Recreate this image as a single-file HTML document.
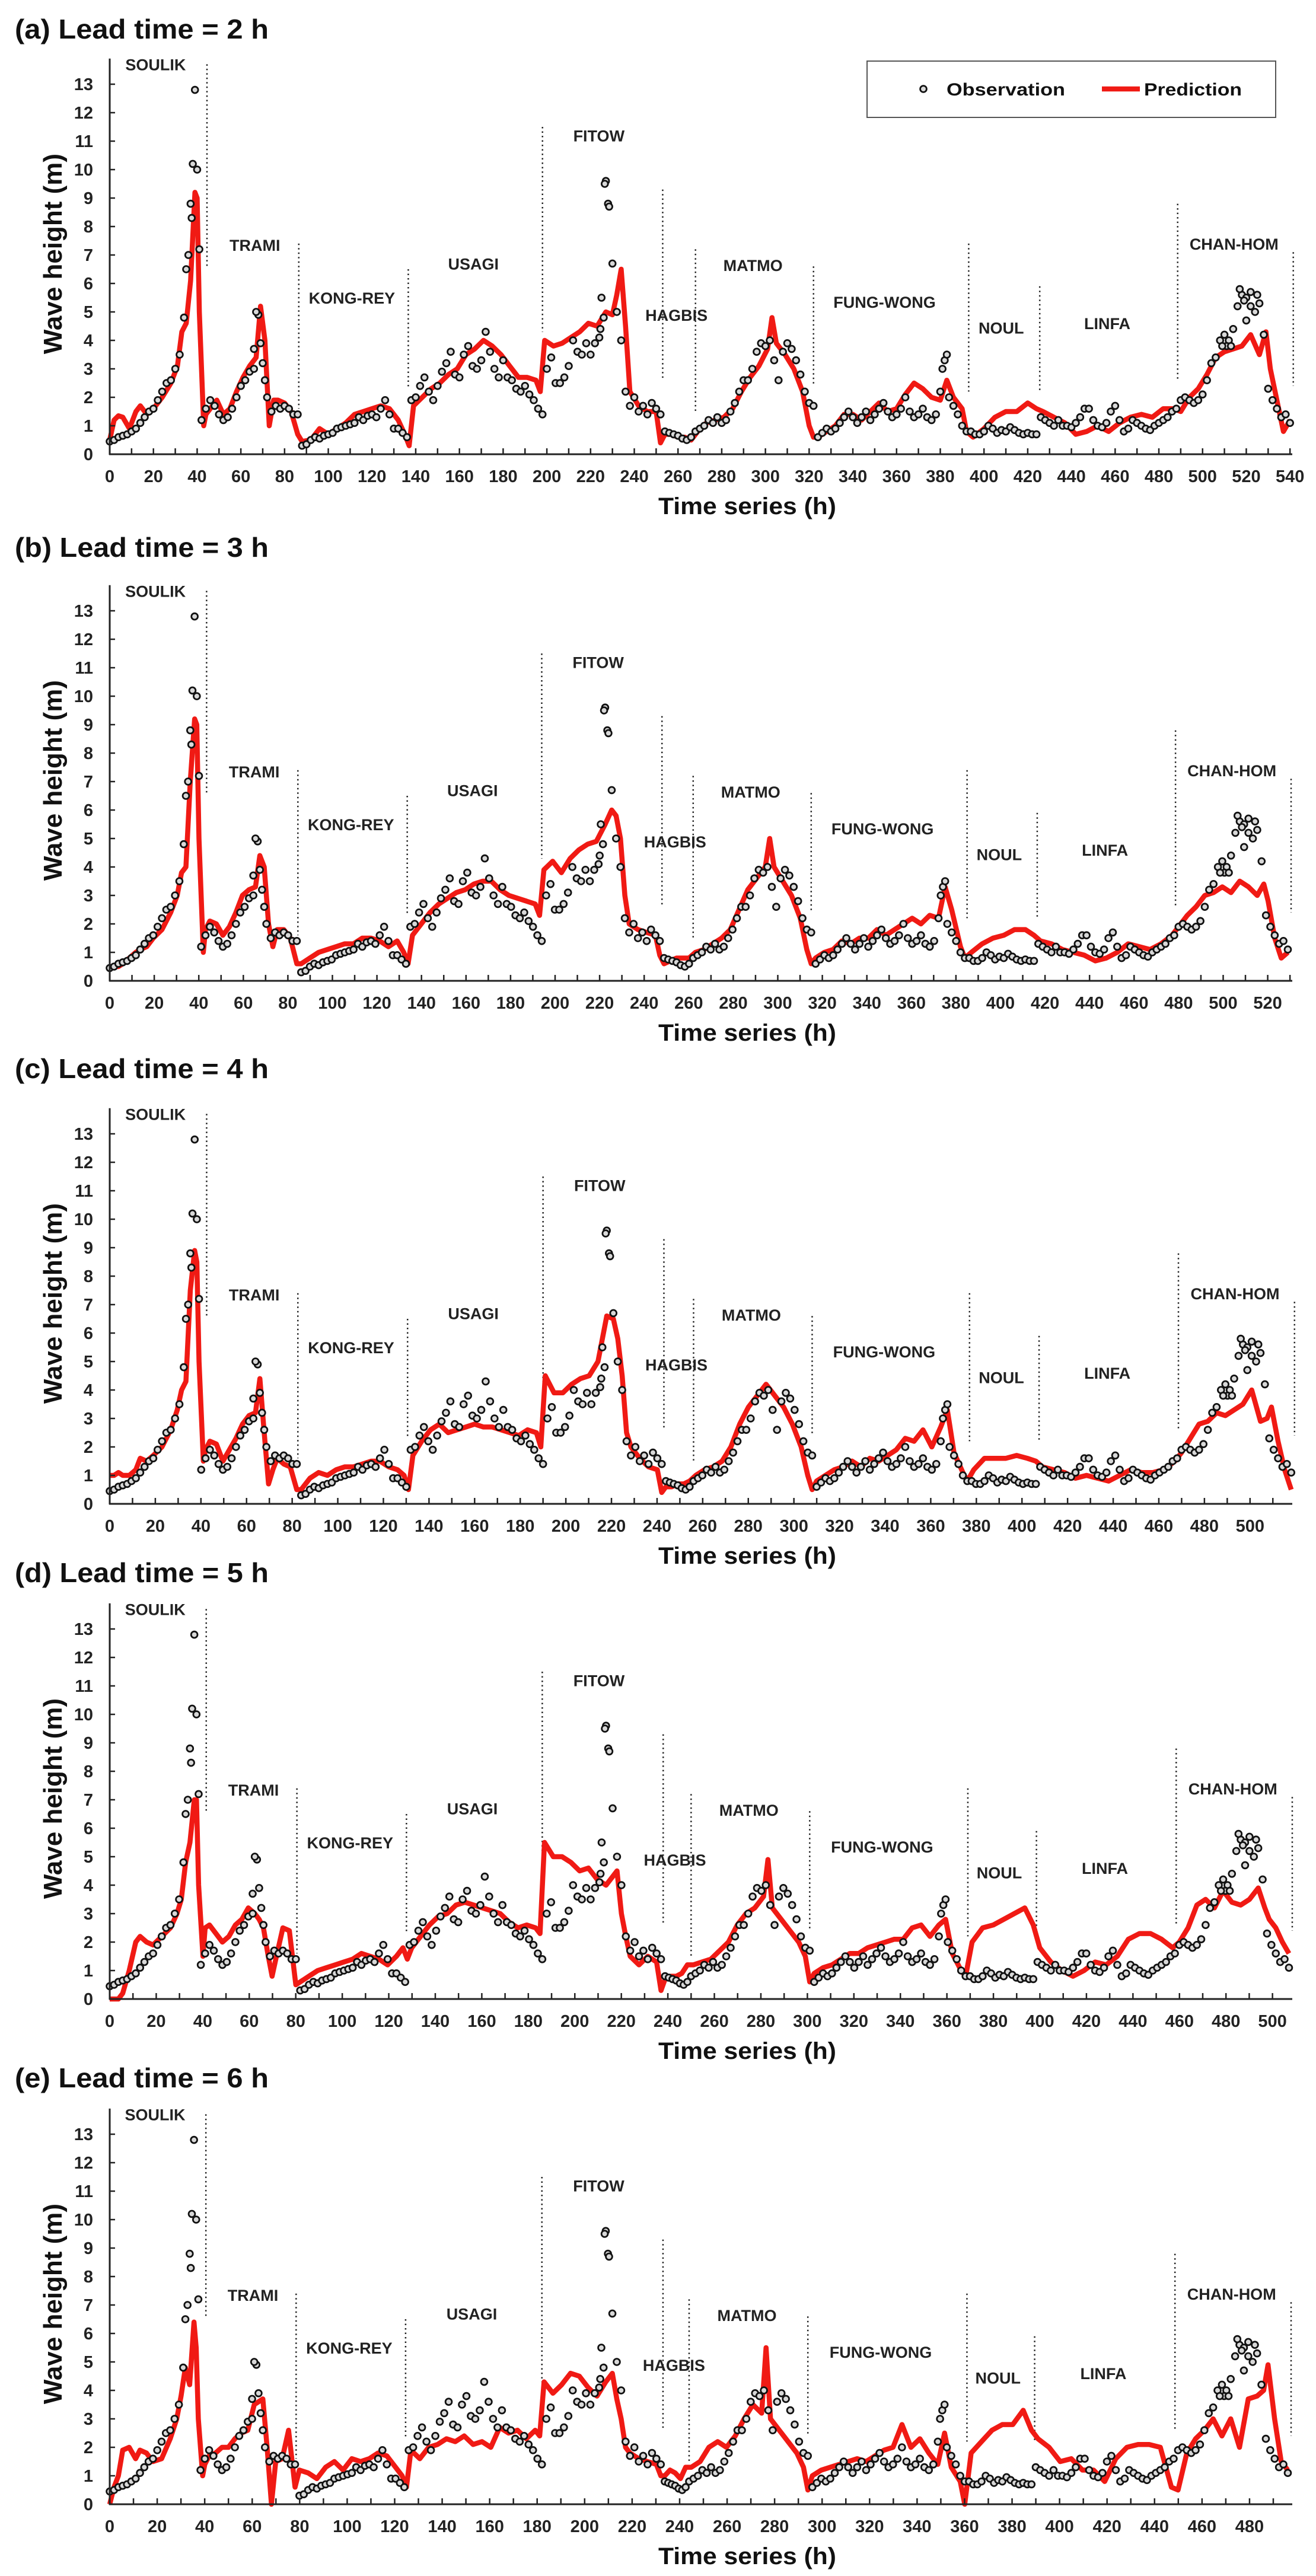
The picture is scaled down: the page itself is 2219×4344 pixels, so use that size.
<!DOCTYPE html>
<html><head><meta charset="utf-8"><style>
html,body{margin:0;padding:0;background:#fff;}
svg{display:block;font-family:"Liberation Sans",Arial,sans-serif;font-weight:bold;}
</style></head><body>
<svg id="fig" width="2219" height="4344" viewBox="0 0 2219 4344" xmlns="http://www.w3.org/2000/svg"></svg>
<script>
// ---- data (time axis expressed in panel (a) hours; other panels mapped by storm) ----
const panelTitles = ["(a) Lead time = 2 h","(b) Lead time = 3 h","(c) Lead time = 4 h","(d) Lead time = 5 h","(e) Lead time = 6 h"];
const leadTimes = [2,3,4,5,6];
const axisMax = [540.5,530.5,518,508,497.5];
const stormNames = ["SOULIK","TRAMI","KONG-REY","USAGI","FITOW","HAGBIS","MATMO","FUNG-WONG","NOUL","LINFA","CHAN-HOM"];
const stormBounds = [0,44.5,86.5,136.6,198,253,268,322,393,425.5,488.6,541.5];
const dividerTop = [13.7,7.4,6.5,11.5,9.3,7.2,6.6,7.4,5.9,8.8,7.1];
const dividerBottom = [6.6,1.6,2.3,4.3,2.6,1.5,2.4,2.2,2.2,2.6,2.4];
const labelT = [21,66.4,110.8,166.4,223.8,259.3,294.3,354.5,407.9,456.4,514.4];
const labelV = [13.7,7.35,5.5,6.7,11.2,4.9,6.65,5.35,4.45,4.6,7.4];
const yTicks = [0,1,2,3,4,5,6,7,8,9,10,11,12,13];
// observations every 2 h (t = 0,2,...,540)
const obsV = [
0.45,0.5,0.6,0.65,0.7,0.8,0.9,1.1,1.3,1.5,1.6,1.9,2.2,2.5,2.6,3.0,3.5,4.8,7.0,10.2,10.0,1.2,
1.6,1.9,1.7,1.4,1.2,1.3,1.6,2.0,2.4,2.6,2.9,3.0,4.9,3.2,2.0,1.5,1.7,1.6,1.7,1.6,1.4,1.4,
0.3,0.35,0.5,0.6,0.55,0.65,0.7,0.75,0.9,0.95,1.0,1.05,1.1,1.3,1.2,1.35,1.4,1.3,1.6,1.9,1.4,0.9,0.9,0.75,0.6,
1.9,2.0,2.4,2.7,2.2,1.9,2.4,2.9,3.2,3.6,2.8,2.7,3.5,3.8,3.1,3.0,3.3,4.3,3.6,3.0,2.7,3.3,2.7,2.6,2.3,2.2,2.4,2.1,1.9,1.6,1.4,
3.0,3.4,2.5,2.5,2.7,3.1,4.0,3.6,3.5,3.9,3.5,3.9,4.1,4.8,8.8,6.7,5.0,4.0,2.2,1.7,2.0,1.5,1.7,1.4,1.8,1.6,1.4,
0.8,0.75,0.7,0.65,0.55,0.5,0.6,0.8,
0.9,1.0,1.2,1.1,1.3,1.1,1.2,1.5,1.8,2.2,2.6,2.6,3.0,3.6,3.9,3.8,4.0,3.3,2.6,3.6,3.9,3.7,3.3,2.8,2.2,1.8,1.7,
0.6,0.75,0.9,0.8,0.9,1.1,1.3,1.5,1.3,1.1,1.3,1.5,1.2,1.4,1.6,1.8,1.5,1.3,1.4,1.6,2.0,1.5,1.3,1.4,1.6,1.3,1.2,1.4,2.2,3.3,2.0,1.7,1.4,1.0,0.8,
0.8,0.7,0.7,0.8,1.0,0.9,0.75,0.85,0.8,0.95,0.85,0.75,0.7,0.75,0.7,0.7,
1.3,1.2,1.1,1.0,1.2,1.0,1.0,0.95,1.1,1.3,1.6,1.6,1.2,1.0,0.95,1.1,1.5,1.7,1.2,0.8,0.9,1.2,1.1,1.0,0.9,0.85,1.0,1.1,1.2,1.3,1.5,1.6,
1.9,2.0,1.9,1.8,1.9,2.1,2.6,3.2,3.4,4.0,4.2,4.0,4.4,5.2,5.6,5.5,5.2,5.0,5.3,4.2,2.3,1.9,1.6,1.3,1.4,1.1];
const obsStep = 2;
const extraT = [39,37,37.5,35,41,67,69,66,71,227,226.5,228.5,225,224.5,517,519,522,525,520,511,513,509,381,383];
const extraV = [12.8,8.8,8.3,6.5,7.2,5.0,3.9,3.7,2.6,9.6,9.5,8.7,5.5,4.4,5.8,5.4,5.7,5.6,4.7,3.8,3.8,3.8,3.0,3.5];
// prediction sample times (panel (a) hours)
const predT = [0,2,4,6,9,12,14,17,20,24,28,31,33,35,37,39,40,41,43,
44,46,49,52,55,58,61,64,67,69,71,73,75,77,80,83,86,
88,92,96,100,104,108,112,116,120,124,128,132,135,137,
139,143,147,151,155,159,163,167,171,175,179,183,187,191,195,197,
199,203,207,211,215,219,223,227,230,232,234,236,238,242,246,250,252,
254,257,260,263,266,
269,273,277,281,285,289,293,297,301,303,305,309,313,317,320,322,
324,328,332,336,340,344,348,352,356,360,364,368,372,376,380,383,386,390,392,
395,400,405,410,415,420,424,
427,432,437,442,447,452,457,462,467,472,477,482,487,
490,494,498,502,506,510,514,518,522,526,529,531,534,537,540];
const predA = [0.5,1.2,1.35,1.3,0.9,1.5,1.7,1.4,1.6,2.0,2.5,3.1,4.3,4.6,6.1,9.2,9.0,5.0,1.0,
1.4,1.6,1.9,1.4,1.6,2.2,2.7,3.1,3.4,5.2,4.0,1.0,1.9,1.9,1.8,1.5,0.7,
0.45,0.5,0.9,0.7,0.9,1.1,1.4,1.5,1.6,1.7,1.6,1.2,0.7,0.3,
1.7,2.0,2.3,2.5,2.8,3.0,3.5,3.7,4.0,3.8,3.5,3.1,2.7,2.7,2.6,2.2,
4.0,3.8,3.9,4.1,4.3,4.6,4.5,5.0,4.9,5.6,6.5,4.5,2.2,1.7,1.5,1.5,0.4,
0.7,0.7,0.6,0.6,0.5,
0.8,1.1,1.2,1.3,1.6,2.2,2.7,3.1,3.7,4.8,3.9,3.5,3.0,2.2,1.0,0.6,
0.6,0.8,1.0,1.4,1.4,1.2,1.5,1.8,1.5,1.6,2.1,2.5,2.3,2.0,1.9,2.6,2.0,1.6,0.8,
0.6,0.9,1.3,1.5,1.5,1.8,1.6,
1.5,1.3,1.1,0.7,0.8,1.0,0.8,1.1,1.3,1.4,1.3,1.6,1.6,
1.5,2.0,2.3,2.8,3.4,3.6,3.7,3.8,4.2,3.5,4.3,3.0,1.9,0.8,1.2];
const predB = [0.5,0.5,0.5,0.6,0.8,1.0,1.1,1.2,1.5,1.8,2.4,3.0,3.8,4.0,7.0,9.2,9.0,5.0,1.0,
1.8,2.1,2.0,1.6,1.9,2.4,3.0,3.2,3.3,4.4,4.0,2.0,1.2,1.8,1.8,1.5,0.6,
0.6,0.8,1.0,1.1,1.2,1.3,1.3,1.5,1.5,1.4,1.2,1.4,1.0,0.6,
1.6,2.0,2.4,2.7,2.9,3.1,3.2,3.4,3.5,3.5,3.2,3.0,2.9,2.8,2.7,2.3,
3.9,4.2,3.8,4.3,4.6,4.8,4.9,5.5,6.0,5.8,5.0,3.0,2.0,1.8,1.7,1.6,0.9,
0.6,0.7,0.8,0.8,0.8,
1.0,1.1,1.3,1.5,1.8,2.5,3.2,3.6,4.0,5.0,4.0,3.5,3.0,2.2,1.1,0.6,
0.8,1.0,1.1,1.4,1.3,1.5,1.5,1.8,1.6,1.8,2.0,2.2,2.0,2.3,2.2,3.3,2.5,1.2,0.8,
1.0,1.3,1.5,1.6,1.8,1.8,1.6,
1.4,1.3,1.1,1.0,0.9,0.7,0.8,1.0,1.3,1.2,1.1,1.3,1.6,
1.9,2.3,2.6,3.0,3.1,3.3,3.1,3.5,3.3,3.0,3.4,2.8,1.5,0.8,1.0];
const predC = [1.0,1.0,1.1,1.0,1.0,1.2,1.6,1.5,1.7,2.0,2.6,3.3,4.0,4.3,7.5,8.9,8.5,5.0,1.5,
1.9,2.2,2.1,1.5,1.9,2.3,2.8,3.1,3.2,4.4,2.5,0.7,1.2,1.6,1.4,1.3,0.5,
0.5,0.9,1.1,1.0,1.2,1.3,1.3,1.4,1.5,1.5,1.3,1.2,1.0,0.5,
1.7,2.2,2.6,2.8,2.5,2.6,2.7,2.8,2.7,2.7,2.6,2.5,2.4,2.6,2.5,2.0,
4.5,3.9,3.9,4.2,4.4,4.5,5.0,6.6,6.5,5.8,4.5,2.5,2.0,1.6,1.3,1.2,0.4,
0.6,0.6,0.7,0.7,0.8,
1.0,1.2,1.3,1.5,2.0,2.8,3.4,3.8,4.2,4.0,3.8,3.4,2.8,2.0,1.0,0.5,
0.8,1.0,1.2,1.3,1.5,1.3,1.6,1.5,1.7,1.9,2.3,2.2,2.6,2.0,2.7,3.3,1.8,1.1,0.8,
1.2,1.6,1.6,1.6,1.7,1.6,1.5,
1.3,1.2,1.1,0.9,1.0,0.9,0.8,1.0,1.2,1.1,1.1,1.2,1.5,
1.8,2.3,2.8,2.9,3.2,3.1,3.3,3.5,4.0,2.9,3.0,3.4,2.2,1.2,0.5];
const predD = [0.0,0.0,0.0,0.2,1.0,2.0,2.2,2.0,1.9,2.2,2.5,3.0,3.5,4.8,5.5,7.0,7.0,4.0,1.5,
2.5,2.6,2.3,2.0,2.2,2.6,2.8,3.2,3.0,2.8,2.5,1.6,0.8,1.5,2.5,2.4,0.5,
0.6,0.8,1.0,1.1,1.2,1.3,1.4,1.6,1.5,1.4,1.2,1.5,1.8,1.4,
1.8,2.2,2.6,2.9,3.0,3.3,3.4,3.3,3.2,3.1,3.0,2.7,2.5,2.6,2.5,2.3,
5.5,5.0,5.0,4.8,4.5,4.6,4.2,4.0,4.3,4.5,3.0,2.2,1.5,1.2,1.5,1.3,0.3,
0.7,0.8,0.8,0.9,1.2,
1.2,1.3,1.4,1.7,2.0,2.6,3.0,3.2,3.6,4.9,3.2,2.8,2.4,2.0,1.5,0.6,
0.9,1.1,1.2,1.4,1.6,1.6,1.8,1.9,2.0,2.1,2.1,2.5,2.6,2.2,2.6,2.8,1.6,1.0,0.8,
2.0,2.5,2.6,2.8,3.0,3.2,2.6,
1.8,1.3,1.0,0.8,1.0,1.3,1.2,1.5,2.1,2.3,2.3,2.1,1.8,
2.0,2.5,3.3,3.5,3.2,3.8,3.4,3.3,3.5,3.9,3.2,2.8,2.5,2.0,1.6];
const predE = [0.0,0.6,1.0,1.9,2.0,1.6,1.9,1.8,1.5,1.6,2.3,3.0,3.8,4.8,4.2,6.4,5.5,3.0,1.0,
1.4,1.7,1.8,2.0,2.0,2.3,2.5,2.6,3.5,3.6,3.7,2.0,0.0,1.5,1.6,2.6,0.6,
1.2,1.1,0.9,1.3,1.5,1.2,1.6,1.5,1.6,1.8,1.7,1.3,1.0,0.6,
1.9,1.6,2.0,2.1,2.3,2.2,2.4,2.1,2.2,2.0,2.7,2.5,2.6,2.3,2.6,2.4,
4.3,3.9,4.2,4.6,4.5,4.1,3.8,4.3,4.6,3.7,3.0,2.0,1.8,1.6,1.5,1.4,1.0,
1.0,1.2,1.1,0.9,1.3,
1.3,1.5,2.0,2.2,2.0,2.4,3.0,3.5,3.2,5.5,3.0,2.6,2.2,1.8,1.3,0.5,
1.0,1.2,1.3,1.4,1.5,1.6,1.5,1.7,1.9,2.0,2.8,2.0,2.3,1.8,1.4,2.5,1.3,0.8,0.0,
1.8,2.2,2.6,2.8,2.8,3.3,2.6,
2.3,2.0,1.5,1.6,1.2,1.2,0.8,1.6,2.0,2.1,2.1,2.0,0.6,
0.5,1.8,2.3,2.6,3.0,2.4,3.0,2.0,3.7,3.8,4.0,4.9,3.0,1.5,1.2];
const predSeries = [predA,predB,predC,predD,predE];

// ---- layout ----
const titleY = [48,922,1801,2651,3503];
const zeroY = [766,1654,2536,3371,4223];
const X0 = 185, XEND = 2179, PXU = 48;
const NS = "http://www.w3.org/2000/svg";
const svg = document.getElementById("fig");
function mk(tag, attrs, parent){
  const e = document.createElementNS(NS, tag);
  for (const k in attrs) e.setAttribute(k, attrs[k]);
  (parent||svg).appendChild(e);
  return e;
}
function mapT(t, L){
  for (let k=0;k<stormBounds.length-1;k++){
    if (t<=stormBounds[k+1] || k===stormBounds.length-2){
      const b0=stormBounds[k], b1=stormBounds[k+1];
      const a0=b0-(L-2)*k, a1=b1-(L-2)*(k+1);
      return a0+(t-b0)/(b1-b0)*(a1-a0);
    }
  }
  return t;
}

panelTitles.forEach((title, p) => {
  const L = leadTimes[p];
  const y0 = zeroY[p];
  const xs = (XEND - X0 - 2) / axisMax[p];
  const xScale = t => X0 + mapT(t, L) * xs;
  const xRaw = h => X0 + h * xs;
  const yScale = v => y0 - v * PXU;
  const g = mk("g", {});
  
  

  const tt = mk("text", {x:25, y:titleY[p]+17, "font-size":46, textLength:428, lengthAdjust:"spacingAndGlyphs", fill:"#111"}, g);
  tt.textContent = title;
  
  

  for (let i=1;i<stormBounds.length;i++){
    const x = xScale(stormBounds[i]);
    const dl = mk("line", {x1:x, x2:x, y1:yScale(dividerTop[i-1]), y2:yScale(dividerBottom[i-1]), stroke:"#222", "stroke-width":2.5, "stroke-dasharray":"2.5 5"}, g);
    
    
  }
  stormNames.forEach((n,i) => {
    const lt = mk("text", {x:xScale(labelT[i]), y:yScale(labelV[i])+10, "font-size":27, "text-anchor":"middle", fill:"#222"}, g);
    lt.textContent = n;
    
    
  });

  const pv = predSeries[p];
  let d = "";
  predT.forEach((t,i) => { d += (i?"L":"M") + xScale(t).toFixed(1) + " " + yScale(pv[i]).toFixed(1) + " "; });
  const pl = mk("path", {d:d, fill:"none", stroke:"#f01a14", "stroke-width":8.5, "stroke-linejoin":"round"}, g);
  
  

  const og = mk("g", {fill:"#d8d8d8", stroke:"#111", "stroke-width":2.8}, g);
  
  
  obsV.forEach((v,i) => {
    const c = mk("circle", {cx:xScale(i*obsStep), cy:yScale(v), r:5.4}, og);
    
    
  });
  extraT.forEach((t,i) => {
    const c = mk("circle", {cx:xScale(t), cy:yScale(extraV[i]), r:5.4}, og);
    
    
  });

  const top = y0 - 13.9*PXU;
  const ya = mk("line", {x1:X0, x2:X0, y1:top, y2:y0+1, stroke:"#222", "stroke-width":3}, g);
  
  
  const xa = mk("line", {x1:X0-1, x2:XEND, y1:y0, y2:y0, stroke:"#222", "stroke-width":3}, g);
  
  
  yTicks.forEach(v => {
    const tk = mk("line", {x1:X0, x2:X0+9, y1:yScale(v), y2:yScale(v), stroke:"#222", "stroke-width":2.5}, g);
    
    
    const tl = mk("text", {x:157, y:yScale(v)+10, "font-size":29, "text-anchor":"end", fill:"#222"}, g);
    tl.textContent = v;
    
    
  });
  for (let h=10; h<=axisMax[p]; h+=10){
    const tk = mk("line", {x1:xRaw(h), x2:xRaw(h), y1:y0, y2:y0-10, stroke:"#222", "stroke-width":2.5}, g);
    
    
  }
  for (let h=0; h<=axisMax[p]; h+=20){
    const tl = mk("text", {x:xRaw(h), y:y0+47, "font-size":29, "text-anchor":"middle", fill:"#222"}, g);
    tl.textContent = h;
    
    
  }
  const yt = mk("text", {x:0, y:0, "font-size":44, "text-anchor":"middle", fill:"#111", transform:"translate(104," + (y0-338) + ") rotate(-90)"}, g);
  yt.textContent = "Wave height (m)";
  
  
  const xt = mk("text", {x:1260, y:y0+101, "font-size":40, "text-anchor":"middle", textLength:300, lengthAdjust:"spacingAndGlyphs", fill:"#111"}, g);
  xt.textContent = "Time series (h)";
  
  
});

const lg = mk("g", {});


const lb = mk("rect", {x:1462, y:103, width:689, height:95, fill:"#fff", stroke:"#555", "stroke-width":2}, lg);


const lm = mk("circle", {cx:1557, cy:150, r:5.4, fill:"#d8d8d8", stroke:"#111", "stroke-width":2.8}, lg);


const lt1 = mk("text", {x:1596, y:161, "font-size":30, textLength:200, lengthAdjust:"spacingAndGlyphs", fill:"#111"}, lg);
lt1.textContent = "Observation";


const ll = mk("line", {x1:1858, x2:1922, y1:150, y2:150, stroke:"#f01a14", "stroke-width":8.5}, lg);


const lt2 = mk("text", {x:1929, y:161, "font-size":30, textLength:165, lengthAdjust:"spacingAndGlyphs", fill:"#111"}, lg);
lt2.textContent = "Prediction";


</script>
</body></html>
